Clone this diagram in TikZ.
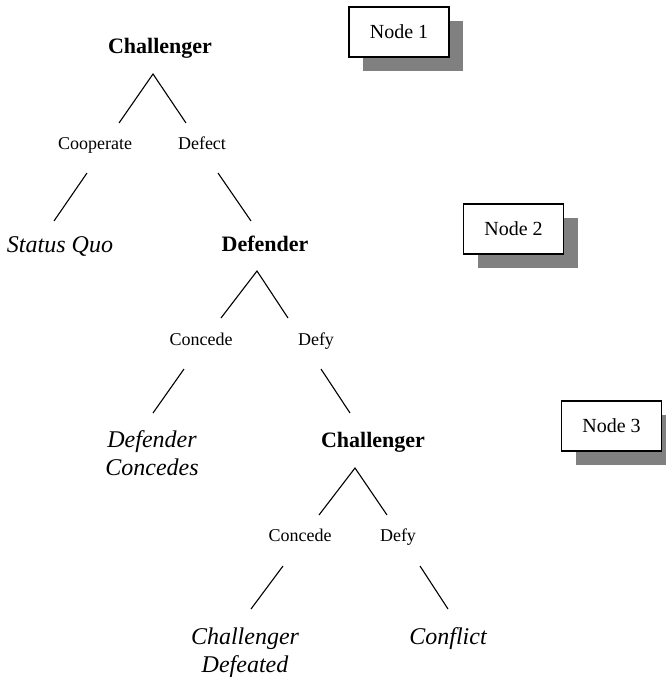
\documentclass[tikz,border=0pt]{standalone}
\usepackage{fontspec}
\setmainfont{Liberation Serif}
\usetikzlibrary{shadows}
\begin{document}
\begin{tikzpicture}[x=1pt,y=1pt,
  player/.style={font=\fontsize{22}{26}\selectfont\bfseries, anchor=base, inner sep=0pt},
  move/.style={font=\fontsize{18}{21}\selectfont, anchor=base, inner sep=0pt},
  outcome/.style={font=\fontsize{24}{27.5}\selectfont\itshape, anchor=base, inner sep=0pt, align=center},
  nodebox/.style={draw=black, line width=1.2pt, fill=white, minimum width=100pt, minimum height=50pt,
    inner sep=0pt, font=\fontsize{20}{24}\selectfont,
    drop shadow={shadow xshift=14pt, shadow yshift=-14pt, fill=black!50, opacity=1}},
  edge/.style={line width=1.1pt, black}]
\useasboundingbox (0,0) rectangle (666,-677);

% labels
\node[player] (ch1) at (160,-54) {Challenger};
\node[move] (coop) at (95,-149) {Cooperate};
\node[move] (defect) at (202,-149) {Defect};
\node[outcome] (sq) at (60,-252) {Status Quo};
\node[player] (def) at (265,-251) {Defender};
\node[move] (con2) at (201,-345) {Concede};
\node[move] (defy2) at (316,-345) {Defy};
\node[outcome] (dc) at (152,-475) {Defender\\Concedes};
\node[player] (ch2) at (373,-447) {Challenger};
\node[move] (con3) at (300,-541) {Concede};
\node[move] (defy3) at (398,-541) {Defy};
\node[outcome] (cd) at (245,-672) {Challenger\\Defeated};
\node[outcome] (conf) at (448,-644) {Conflict};

% boxes
\node[nodebox] (n1) at (399,-32) {Node 1};
\node[nodebox] (n2) at (513.5,-229) {Node 2};
\node[nodebox] (n3) at (611.5,-426) {Node 3};

% line end points
\coordinate (a1) at (153,-74);
\coordinate (a1l) at (119,-123);
\coordinate (a1r) at (186,-123);
\coordinate (c1a) at (87,-173);
\coordinate (c1b) at (54,-221);
\coordinate (d1a) at (218,-173);
\coordinate (d1b) at (251,-221);
\coordinate (a2) at (257,-271);
\coordinate (a2l) at (221,-318);
\coordinate (a2r) at (288,-318);
\coordinate (c2a) at (184,-369);
\coordinate (c2b) at (153,-413);
\coordinate (d2a) at (321,-369);
\coordinate (d2b) at (350,-413);
\coordinate (a3) at (355,-468);
\coordinate (a3l) at (319,-515);
\coordinate (a3r) at (387,-515);
\coordinate (c3a) at (283,-566);
\coordinate (c3b) at (251,-609);
\coordinate (d3a) at (420,-566);
\coordinate (d3b) at (448,-609);

\draw[edge] (a1l) -- (a1) -- (a1r);
\draw[edge] (c1a) -- (c1b);
\draw[edge] (d1a) -- (d1b);
\draw[edge] (a2l) -- (a2) -- (a2r);
\draw[edge] (c2a) -- (c2b);
\draw[edge] (d2a) -- (d2b);
\draw[edge] (a3l) -- (a3) -- (a3r);
\draw[edge] (c3a) -- (c3b);
\draw[edge] (d3a) -- (d3b);
\end{tikzpicture}
\end{document}
